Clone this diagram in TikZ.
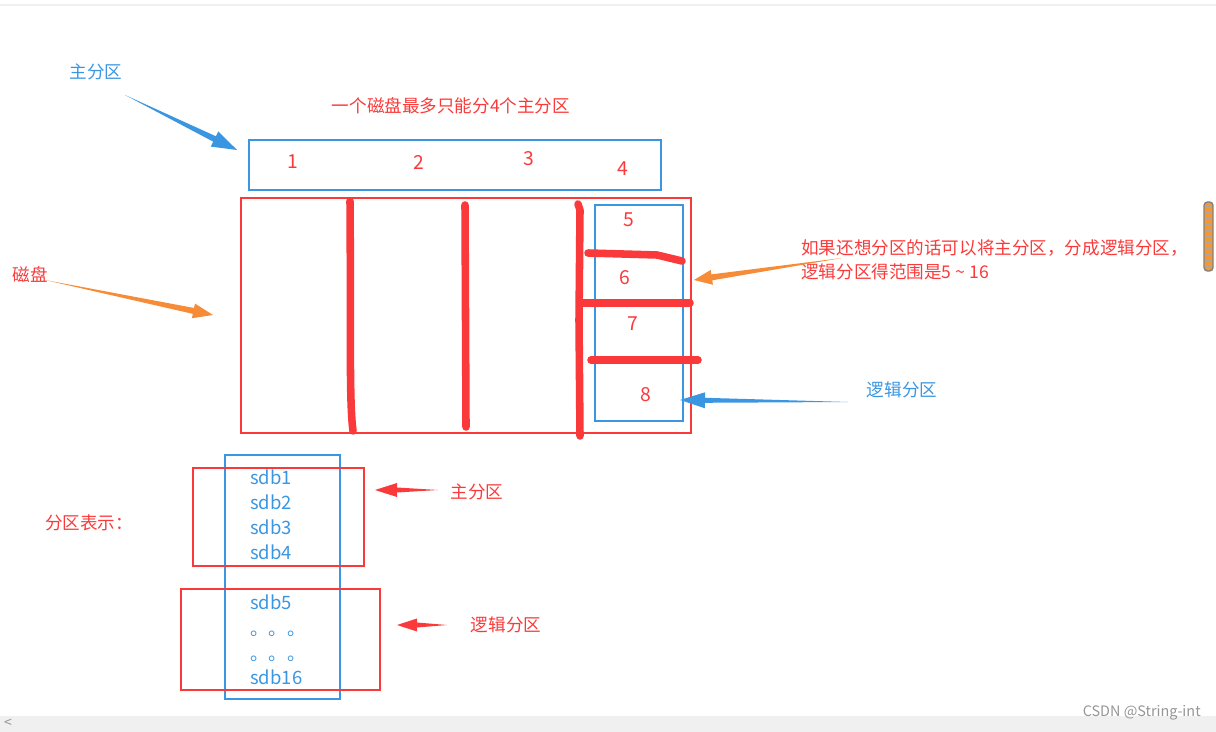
\documentclass[tikz,border=0pt]{standalone}
\usepackage{fontspec}
\newfontfamily\cjk{Noto Sans CJK SC}
\definecolor{notered}{RGB}{250,58,58}
\definecolor{noteblue}{RGB}{58,150,225}
\definecolor{noteorange}{RGB}{246,140,56}
\definecolor{bargray}{RGB}{240,240,240}
\definecolor{marktext}{RGB}{150,150,150}
\usetikzlibrary{calc}

% thick wedge arrow: colour, tail, tip, head length, head half width, shaft half width
\newcommand{\fatarrow}[6]{%
  \coordinate (hb) at ($(#3)!#4!(#2)$);
  \fill[#1] (#2) -- ($(hb)!#6!90:(#3)$) -- ($(hb)!#5!90:(#3)$) -- (#3)
    -- ($(hb)!#5!-90:(#3)$) -- ($(hb)!#6!-90:(#3)$) -- cycle;}

\begin{document}
\begin{tikzpicture}[x=0.02cm,y=-0.02cm,
    redtxt/.style={text=notered,font=\cjk\fontsize{10}{14}\selectfont,inner sep=0pt},
    bluetxt/.style={text=noteblue,font=\cjk\fontsize{10}{14}\selectfont,inner sep=0pt},
    rednum/.style={text=notered,font=\cjk\fontsize{11}{13}\selectfont,inner sep=0pt},
    sdbtxt/.style={text=noteblue,font=\cjk\fontsize{10.5}{13}\selectfont,inner sep=0pt,anchor=west},
    redbox/.style={draw=notered,line width=0.6pt},
    bluebox/.style={draw=noteblue,line width=0.6pt},
    handline/.style={draw=notered,line width=4.3pt,line cap=round,line join=round}]
  \useasboundingbox (0,0) rectangle (1216,732);

  % screen frame
  \fill[bargray] (0,4) rectangle (1216,6);
  \fill[bargray] (0,716) rectangle (1216,732);
  \node[text=marktext,font=\cjk\fontsize{8}{9}\selectfont,inner sep=0pt] (leftmark) at (8,723) {<};
  \node[text=marktext,font=\cjk\fontsize{8.2}{10}\selectfont,inner sep=0pt,anchor=east] (watermark) at (1201,713) {CSDN @String-int};
  \filldraw[fill=noteorange!90!yellow,draw=gray,line width=0.8pt,rounded corners=2pt] (1204,202) rectangle (1213,271);
  \foreach \yy in {206,209,...,267}
    \draw[gray!70,line width=0.3pt] (1205,\yy) -- (1212,\yy);

  % top: primary partitions
  \node[bluetxt] (mainlbl) at (96,72) {主分区};
  \node[redtxt] (title) at (451,106) {一个磁盘最多只能分4个主分区};
  \draw[bluebox] (249,140) rectangle (661,190);
  \node[rednum] (p1) at (293,162) {1};
  \node[rednum] (p2) at (419,162) {2};
  \node[rednum] (p3) at (529,159) {3};
  \node[rednum] (p4) at (623,169) {4};

  % disk
  \draw[redbox] (241,198) rectangle (691,433);
  \draw[bluebox] (595,205) rectangle (683,421);
  \draw[handline] (350,201) .. controls (351,330) and (349,400) .. (353,431);
  \draw[handline] (465,205) -- (466,427);
  \draw[handline] (578,204) -- (580,210) -- (579,320) -- (580,436);
  \draw[handline] (588,253) -- (657,255) -- (682,261);
  \draw[handline] (580,303) -- (690,303);
  \draw[handline] (591,360) -- (698,360);
  \node[rednum] (p5) at (629,220) {5};
  \node[rednum] (p6) at (625,278) {6};
  \node[rednum] (p7) at (633,324) {7};
  \node[rednum] (p8) at (646,395) {8};

  \node[redtxt] (disklbl) at (30,275) {磁盘};
  \node[redtxt,anchor=west,align=left] (note) at (801,260)
    {如果还想分区的话可以将主分区，分成逻辑分区，\\逻辑分区得范围是5 \textasciitilde\ 16};
  \node[bluetxt] (loglbl) at (902,390) {逻辑分区};

  % arrows
  \coordinate (mainTail) at (125,95);
  \coordinate (mainTip) at (237,150);
  \fatarrow{noteblue}{mainTail}{mainTip}{0.5cm}{0.17cm}{0.06cm}
  \coordinate (diskTail) at (45,280);
  \coordinate (diskTip) at (213,315);
  \fatarrow{noteorange}{diskTail}{diskTip}{0.4cm}{0.15cm}{0.06cm}
  \coordinate (noteTail) at (842,258);
  \coordinate (noteTip) at (694,280);
  \fatarrow{noteorange}{noteTail}{noteTip}{0.36cm}{0.15cm}{0.06cm}
  \coordinate (logTail) at (848,402);
  \coordinate (logTip) at (680,400);
  \fatarrow{noteblue}{logTail}{logTip}{0.5cm}{0.16cm}{0.05cm}

  % partition names
  \node[redtxt] (reprlbl) at (89,523) {分区表示：};
  \draw[bluebox] (225,455) rectangle (340,699);
  \draw[redbox] (193,468) rectangle (364,566);
  \draw[redbox] (181,589) rectangle (380,690);
  \node[sdbtxt] (sdb1) at (250,477) {sdb1};
  \node[sdbtxt] (sdb2) at (250,502) {sdb2};
  \node[sdbtxt] (sdb3) at (250,527) {sdb3};
  \node[sdbtxt] (sdb4) at (250,552) {sdb4};
  \node[sdbtxt] (sdb5) at (250,602) {sdb5};
  \node[sdbtxt] (dots1) at (250,634) {。。。};
  \node[sdbtxt] (dots2) at (250,659) {。。。};
  \node[sdbtxt] (sdb16) at (250,677) {sdb16};

  \node[redtxt] (mainlbl2) at (477,492) {主分区};
  \node[redtxt] (loglbl2) at (506,625) {逻辑分区};
  \coordinate (main2Tail) at (438,490);
  \coordinate (main2Tip) at (375,490);
  \fatarrow{notered}{main2Tail}{main2Tip}{0.44cm}{0.14cm}{0.05cm}
  \coordinate (log2Tail) at (447,625);
  \coordinate (log2Tip) at (397,625);
  \fatarrow{notered}{log2Tail}{log2Tip}{0.4cm}{0.13cm}{0.05cm}
\end{tikzpicture}
\end{document}
